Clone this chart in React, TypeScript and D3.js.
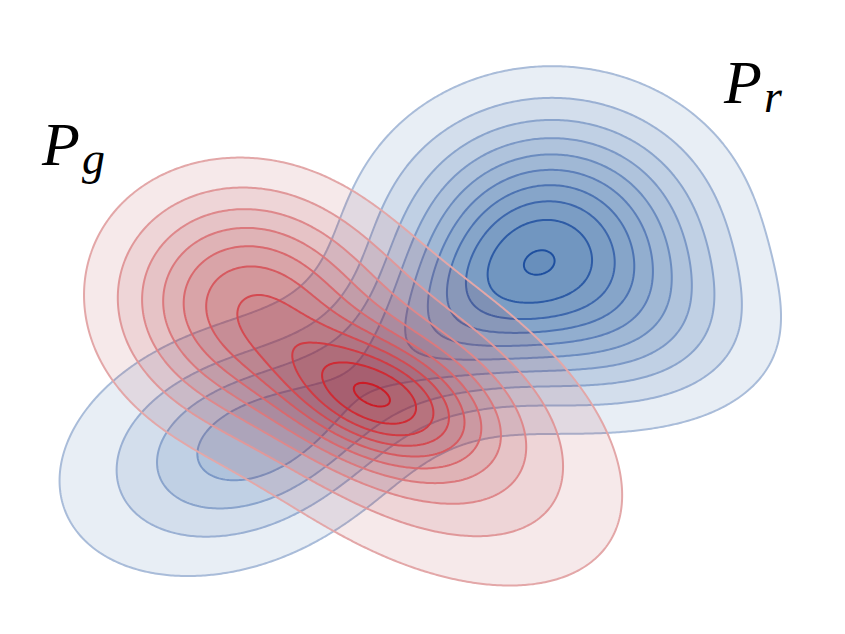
import React, { useRef, useEffect } from "react";
import * as d3 from "d3";

const width = 845;
const height = 634;

// P_r (blue) as a sum of gaussian bumps, data units, angle in degrees (ccw)
const realCx = [5.52, 4.8, 2.37, 2.25, 3.95, 6.5];
const realCy = [3.91, 3.38, 1.87, 1.85, 2.74, 3.04];
const realSx = [1.0, 0.7, 0.8, 1.35, 1.15, 0.9];
const realSy = [0.86, 0.55, 0.55, 0.9, 0.5, 0.6];
const realAngle = [0, 30, 20, 20, 32, -10];
const realWeight = [0.88, 0.13, 0.22, 0.2, 0.25, 0.2];

// P_g (red)
const fakeCx = [3.78, 2.4, 3.95];
const fakeCy = [2.35, 3.35, 2.3];
const fakeSx = [0.68, 0.8, 1.5];
const fakeSy = [0.38, 0.72, 0.82];
const fakeAngle = [-20, 0, -33];
const fakeWeight = [0.55, 0.48, 0.42];

const levelCount = 10;
const realTop = 0.99;
const fakeTop = 0.98;

const labels = [
  { main: "P", sub: "g", x: 0.42, y: 4.69 },
  { main: "P", sub: "r", x: 7.24, y: 5.31 },
];

const xScale = d3.scaleLinear().domain([0, 8.45]).range([0, width]);
const yScale = d3.scaleLinear().domain([0, 6.34]).range([height, 0]);

function density(cx, cy, sx, sy, ang, w, x, y) {
  let s = 0;
  for (let k = 0; k < cx.length; k++) {
    const a = (ang[k] * Math.PI) / 180;
    const dx = x - cx[k];
    const dy = y - cy[k];
    const u = dx * Math.cos(a) + dy * Math.sin(a);
    const v = -dx * Math.sin(a) + dy * Math.cos(a);
    s += w[k] * Math.exp(-0.5 * ((u * u) / (sx[k] * sx[k]) + (v * v) / (sy[k] * sy[k])));
  }
  return s;
}

const step = 2;
const nx = Math.ceil(width / step);
const ny = Math.ceil(height / step);

function grid(cx, cy, sx, sy, ang, w) {
  const vals = new Float64Array(nx * ny);
  for (let j = 0; j < ny; j++) {
    const y = yScale.invert((j + 0.5) * step);
    for (let i = 0; i < nx; i++) {
      const x = xScale.invert((i + 0.5) * step);
      vals[j * nx + i] = density(cx, cy, sx, sy, ang, w, x, y);
    }
  }
  return vals;
}

const App = () => {
  const svgRef = useRef();

  useEffect(() => {
    const svg = d3.select(svgRef.current);
    svg.selectAll("*").remove();

    const path = d3.geoPath(d3.geoIdentity().scale(step));

    const layers = [
      {
        vals: grid(realCx, realCy, realSx, realSy, realAngle, realWeight),
        top: realTop,
        fill: "rgb(30,85,155)",
        lineFrom: "#a9bcd9",
        lineTo: "#1e4f9f",
      },
      {
        vals: grid(fakeCx, fakeCy, fakeSx, fakeSy, fakeAngle, fakeWeight),
        top: fakeTop,
        fill: "rgb(170,35,45)",
        lineFrom: "#e3a7a8",
        lineTo: "#cc1c26",
      },
    ];

    layers.forEach((layer) => {
      const max = d3.max(layer.vals);
      const thresholds = d3.range(1, levelCount + 1).map((k) => (k / levelCount) * layer.top * max);
      const contours = d3.contours().size([nx, ny]).thresholds(thresholds)(layer.vals);
      const lineColor = d3.interpolateRgb(layer.lineFrom, layer.lineTo);

      const g = svg.append("g");
      g.selectAll("path.fill")
        .data(contours)
        .join("path")
        .attr("class", "fill")
        .attr("d", path)
        .attr("fill", layer.fill)
        .attr("fill-opacity", 0.1)
        .attr("stroke", "none");

      g.selectAll("path.line")
        .data(contours)
        .join("path")
        .attr("class", "line")
        .attr("d", path)
        .attr("fill", "none")
        .attr("stroke", (d, i) => lineColor(i / (levelCount - 1)))
        .attr("stroke-width", 2)
        .attr("stroke-linejoin", "round");
    });

    // labels
    labels.forEach((l) => {
      const t = svg
        .append("text")
        .attr("x", xScale(l.x))
        .attr("y", yScale(l.y))
        .attr("font-family", "'Liberation Serif', 'DejaVu Serif', serif")
        .attr("font-style", "italic")
        .attr("font-size", 62)
        .attr("fill", "#000");
      t.append("tspan").text(l.main);
      t.append("tspan").attr("font-size", 46).attr("dy", 9).attr("dx", 2).text(l.sub);
    });
  }, []);

  return (
    <svg
      ref={svgRef}
      width={width}
      height={height}
      style={{ position: "absolute", left: 0, top: 0, background: "#fff" }}
    ></svg>
  );
};

export default App;
